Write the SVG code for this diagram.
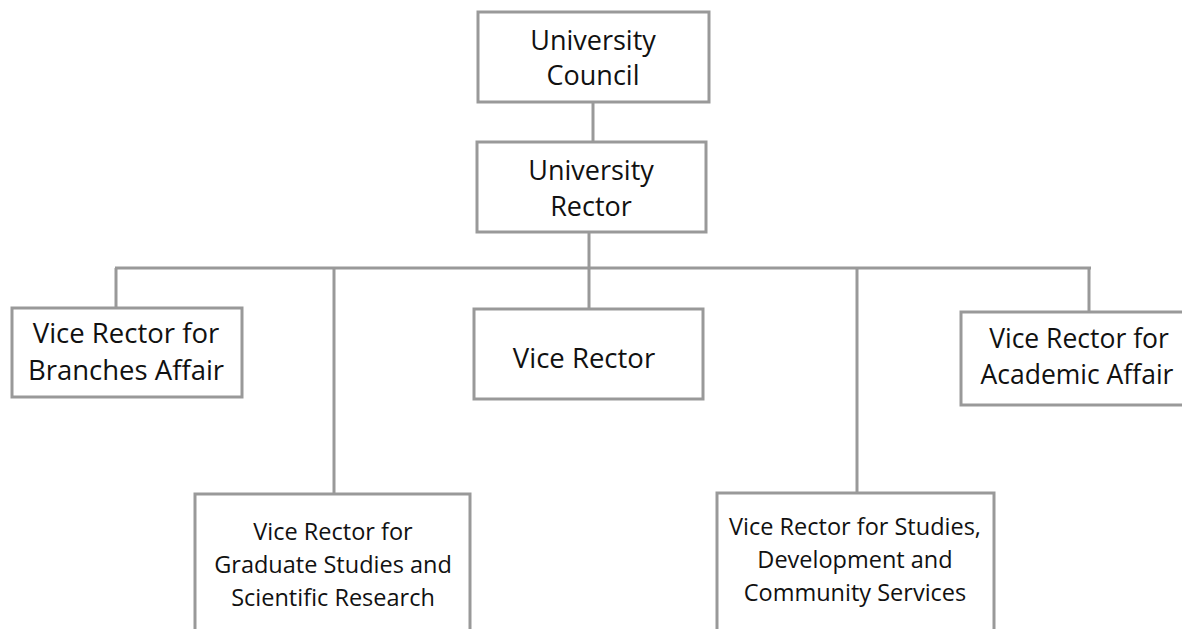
<svg xmlns="http://www.w3.org/2000/svg" width="1182" height="629" viewBox="0 0 1182 629">
<style>
.box{fill:#fff;stroke:#999;stroke-width:3}
.ln{fill:none;stroke:#999;stroke-width:3}
text{font-family:"Open Sans","Liberation Sans",sans-serif;fill:#111;text-anchor:middle}
.t1{font-size:27px}
.t2{font-size:27.5px}
.t4{font-size:26.5px}
.t3{font-size:23.5px}
</style>
<rect width="1182" height="629" fill="#fff"/>
<g id="connectors">
<line class="ln" x1="593" y1="102" x2="593" y2="142"/>
<line class="ln" x1="589" y1="232" x2="589" y2="268"/>
<line class="ln" x1="115" y1="268" x2="1091" y2="268"/>
<line class="ln" x1="116" y1="268" x2="116" y2="308"/>
<line class="ln" x1="334" y1="268" x2="334" y2="494"/>
<line class="ln" x1="589" y1="268" x2="589" y2="309"/>
<line class="ln" x1="857" y1="268" x2="857" y2="493"/>
<line class="ln" x1="1089" y1="268" x2="1089" y2="312"/>
</g>
<g id="council">
<rect class="box" x="478" y="12" width="231" height="90"/>
<text class="t1" x="593" y="50">University</text>
<text class="t1" x="593" y="85">Council</text>
</g>
<g id="rector">
<rect class="box" x="477" y="142" width="229" height="90"/>
<text class="t1" x="591" y="180">University</text>
<text class="t1" x="591" y="216">Rector</text>
</g>
<g id="branches">
<rect class="box" x="12" y="308" width="230" height="89"/>
<text class="t2" x="126" y="343">Vice Rector for</text>
<text class="t2" x="126" y="380">Branches Affair</text>
</g>
<g id="vicerector">
<rect class="box" x="474" y="309" width="229" height="90"/>
<text class="t2" x="584" y="368">Vice Rector</text>
</g>
<g id="academic">
<rect class="box" x="961" y="312" width="240" height="93"/>
<text class="t4" x="1079" y="348">Vice Rector for</text>
<text class="t4" x="1077" y="384">Academic Affair</text>
</g>
<g id="graduate">
<path class="box" d="M195,629 V494 H470 V629"/>
<text class="t3" x="333" y="540">Vice Rector for</text>
<text class="t3" x="333" y="573">Graduate Studies and</text>
<text class="t3" x="333" y="606">Scientific Research</text>
</g>
<g id="studies">
<path class="box" d="M717,629 V493 H994 V629"/>
<text class="t3" x="855" y="535">Vice Rector for Studies,</text>
<text class="t3" x="855" y="568">Development and</text>
<text class="t3" x="855" y="601">Community Services</text>
</g>
</svg>
